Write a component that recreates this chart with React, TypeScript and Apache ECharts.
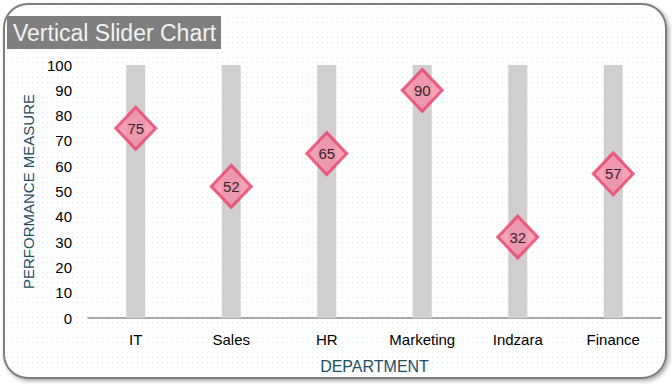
import React, { useEffect, useRef } from "react";
import * as echarts from "echarts";

const categories = ["IT", "Sales", "HR", "Marketing", "Indzara", "Finance"];
const performance = [75, 52, 65, 90, 32, 57];
const maxValue = [100, 100, 100, 100, 100, 100];
const yTicks = { min: 0, max: 100, interval: 10 };

function makeDots(): string {
  const c = document.createElement("canvas");
  c.width = 5;
  c.height = 5;
  const ctx = c.getContext("2d");
  if (ctx) {
    ctx.fillStyle = "#ffffff";
    ctx.fillRect(0, 0, 5, 5);
    ctx.fillStyle = "#d3ecf3";
    ctx.fillRect(2, 2, 1, 1);
  }
  return c.toDataURL();
}

export default function App() {
  const ref = useRef<HTMLDivElement>(null);
  useEffect(() => {
    document.body.style.margin = "0";
    if (!ref.current) return;
    const chart = echarts.init(ref.current, null, { renderer: "svg" });
    const font = "Liberation Sans";
    chart.setOption({
      animation: false,
      backgroundColor: "#ffffff",
      textStyle: { fontFamily: font },
      graphic: [
        {
          type: "rect",
          z: -10,
          shape: { x: 4, y: 4, width: 662, height: 374, r: 24 },
          style: {
            fill: { image: makeDots(), repeat: "repeat" },
            stroke: "#7f7f7f",
            lineWidth: 2,
            shadowBlur: 4,
            shadowColor: "rgba(0,0,0,0.35)",
            shadowOffsetX: 2,
            shadowOffsetY: 2,
          },
        },
        {
          type: "rect",
          z: 10,
          shape: { x: 7, y: 16, width: 214, height: 33 },
          style: { fill: "#7f7f7f" },
        },
        {
          type: "text",
          z: 11,
          x: 13,
          y: 33,
          style: {
            text: "Vertical Slider Chart",
            fill: "#f2f2f2",
            font: `23px ${font}`,
            verticalAlign: "middle",
          },
        },
      ],
      grid: { left: 88, right: 11, top: 65, bottom: 66 },
      xAxis: {
        type: "category",
        data: categories,
        name: "DEPARTMENT",
        nameLocation: "middle",
        nameGap: 40,
        nameTextStyle: { color: "#1f4e5f", fontSize: 16, fontFamily: font },
        axisLine: { lineStyle: { color: "#8c8c8c", width: 1.5 } },
        axisTick: { show: false },
        axisLabel: { color: "#000", fontSize: 15, margin: 14, fontFamily: font },
      },
      yAxis: {
        type: "value",
        min: yTicks.min,
        max: yTicks.max,
        interval: yTicks.interval,
        name: "PERFORMANCE MEASURE",
        nameLocation: "middle",
        nameGap: 49,
        nameTextStyle: { color: "#1f4e5f", fontSize: 15, fontFamily: font },
        axisLine: { show: false },
        axisTick: { show: false },
        splitLine: { show: false },
        axisLabel: { color: "#000", fontSize: 15, margin: 16, fontFamily: font },
      },
      series: [
        {
          type: "bar",
          data: maxValue,
          barWidth: 19,
          itemStyle: { color: "#d0cece" },
          silent: true,
        },
        {
          type: "scatter",
          data: performance,
          symbol: "diamond",
          symbolSize: [40, 42],
          itemStyle: { color: "#f48ba6", borderColor: "#e8436c", borderWidth: 3 },
          label: {
            show: true,
            position: "inside",
            color: "#000",
            fontSize: 15,
            fontFamily: font,
          },
          z: 5,
        },
      ],
    });
    return () => chart.dispose();
  }, []);
  return <div ref={ref} style={{ width: 672, height: 384 }} />;
}
